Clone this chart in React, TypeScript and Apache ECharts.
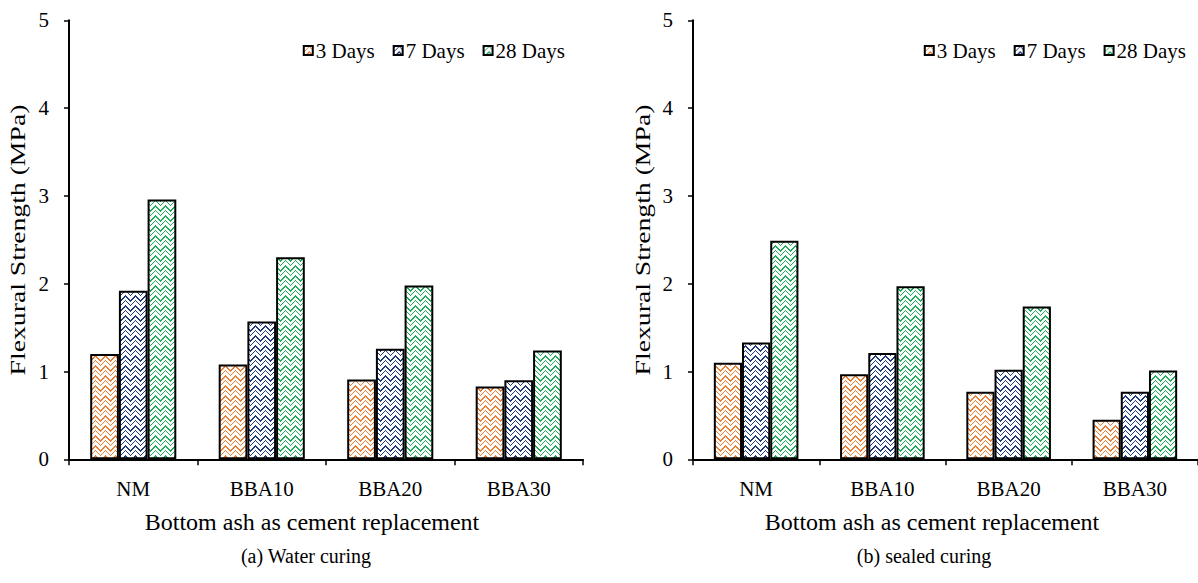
import React, { useEffect, useRef } from 'react';
import * as echarts from 'echarts';

const categories = ['NM', 'BBA10', 'BBA20', 'BBA30'];
const seriesNames = ['3 Days', '7 Days', '28 Days'];
const water3 = [1.2, 1.08, 0.91, 0.83];
const water7 = [1.92, 1.57, 1.26, 0.9];
const water28 = [2.96, 2.3, 1.98, 1.24];
const sealed3 = [1.1, 0.97, 0.77, 0.45];
const sealed7 = [1.33, 1.21, 1.02, 0.77];
const sealed28 = [2.49, 1.97, 1.74, 1.01];
const yMin = 0;
const yMax = 5;
const yStep = 1;
const xTitle = 'Bottom ash as cement replacement';
const yTitle = 'Flexural Strength (MPa)';
const captions = ['(a) Water curing', '(b) sealed curing'];

const colors = ['#ED7D31', '#1F3A7A', '#1FAF5A'];
const font = "'Liberation Serif', 'DejaVu Serif', serif";

function makePattern(color: string) {
  const c = document.createElement('canvas');
  const w = 10;
  const h = 10;
  c.width = w;
  c.height = h;
  const ctx = c.getContext('2d')!;
  ctx.fillStyle = '#ffffff';
  ctx.fillRect(0, 0, w, h);
  ctx.fillStyle = color;
  for (let x = 0; x < w; x++) {
    const y = Math.abs(x - 5);
    ctx.fillRect(x, y, 1, 1);
    if ((x + y) % 2 === 0) ctx.fillRect(x, (y + 1) % h, 1, 1);
    ctx.fillRect(x, (y + 5) % h, 1, 1);
    if ((x + y) % 2 === 1) ctx.fillRect(x, (y + 6) % h, 1, 1);
  }
  return { image: c, repeat: 'repeat', imageWidth: w, imageHeight: h };
}

export default function App() {
  const ref = useRef<HTMLDivElement>(null);
  useEffect(() => {
    document.body.style.margin = '0';
    const chart = echarts.init(ref.current!, null, { renderer: 'svg' });
    const patterns = colors.map(makePattern);
    const grids = [
      { left: 69, top: 20.3, width: 514, height: 439 },
      { left: 693, top: 20.3, width: 513, height: 439 },
    ];
    const dataSets = [
      [water3, water7, water28],
      [sealed3, sealed7, sealed28],
    ];
    const xAxes = grids.map((_, i) => ({
      type: 'category',
      gridIndex: i,
      data: categories,
      axisLine: { lineStyle: { color: '#000', width: 2 } },
      axisTick: { show: true, length: 6, lineStyle: { color: '#000', width: 1.5 } },
      axisLabel: { fontSize: 21, color: '#000', fontFamily: font, margin: 19 },
    }));
    const yAxes = grids.map((_, i) => ({
      type: 'value',
      gridIndex: i,
      min: yMin,
      max: yMax,
      interval: yStep,
      axisLine: { show: true, lineStyle: { color: '#000', width: 2 } },
      axisTick: { show: true, length: 5, lineStyle: { color: '#000', width: 1.5 } },
      axisLabel: { fontSize: 21, color: '#000', fontFamily: font, margin: 20 },
      splitLine: { show: false },
    }));
    const series: any[] = [];
    dataSets.forEach((set, gi) => {
      set.forEach((vals, si) => {
        series.push({
          type: 'bar',
          name: seriesNames[si],
          xAxisIndex: gi,
          yAxisIndex: gi,
          data: vals,
          barGap: '0%',
          barCategoryGap: '33%',
          itemStyle: { color: patterns[si], borderColor: '#000', borderWidth: 2 },
        });
      });
    });
    const legendBase = {
      data: seriesNames,
      top: 40,
      padding: 0,
      icon: 'rect',
      itemWidth: 9,
      itemHeight: 9,
      itemGap: 18,
      textStyle: { fontSize: 21, color: '#000', fontFamily: font, padding: [0, 0, 0, -2] },
    };
    const txt = (x: number, y: number, text: string, size: number, extra: any = {}) => ({
      type: 'text',
      x,
      y,
      ...extra,
      style: { text, fontSize: size, fontFamily: font, fill: '#000', align: 'center', verticalAlign: 'middle' },
    });
    chart.setOption({
      animation: false,
      grid: grids,
      xAxis: xAxes,
      yAxis: yAxes,
      series,
      legend: [
        { ...legendBase, right: 633 },
        { ...legendBase, right: 12 },
      ],
      graphic: [
        txt(18, 240, yTitle, 21, { rotation: Math.PI / 2, scaleX: 1.32 }),
        txt(643, 240, yTitle, 21, { rotation: Math.PI / 2, scaleX: 1.32 }),
        txt(312, 522, xTitle, 24),
        txt(932, 522, xTitle, 24),
        txt(306, 556, captions[0], 20),
        txt(924, 556, captions[1], 20),
      ],
    });
    return () => chart.dispose();
  }, []);
  return <div ref={ref} style={{ width: 1198, height: 583 }} />;
}
